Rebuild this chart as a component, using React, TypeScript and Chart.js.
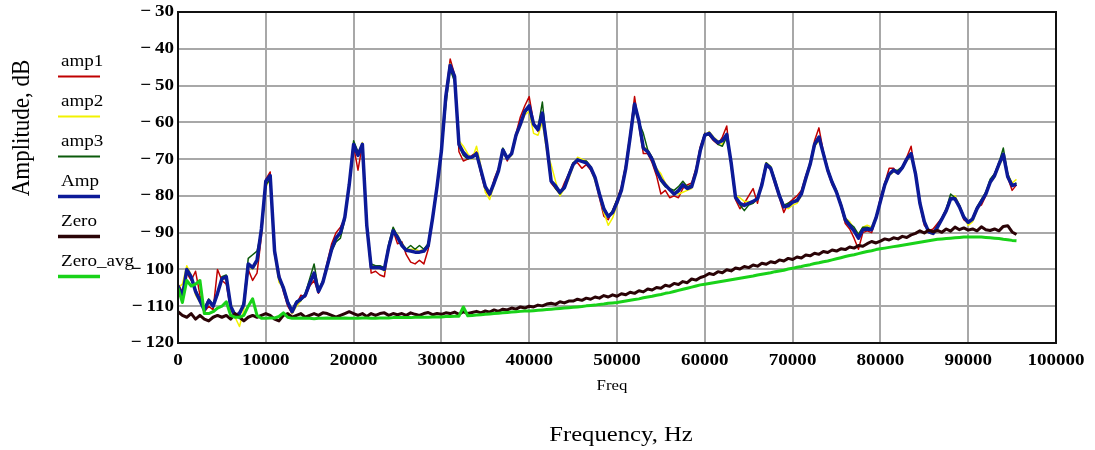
import React, { useEffect, useRef } from 'react';
import { Chart, registerables } from 'chart.js';

Chart.register(...registerables);

// Frequency bins, Hz
const FREQ = [
  0, 500, 1000, 1500, 2000, 2500, 3000, 3500, 4000, 4500,
  5000, 5500, 6000, 6500, 7000, 7500, 8000, 8500, 9000, 9500,
  10000, 10500, 11000, 11500, 12000, 12500, 13000, 13500, 14000, 14500,
  15000, 15500, 16000, 16500, 17000, 17500, 18000, 18500, 19000, 19500,
  20000, 20500, 21000, 21500, 22000, 22500, 23000, 23500, 24000, 24500,
  25000, 25500, 26000, 26500, 27000, 27500, 28000, 28500, 29000, 29500,
  30000, 30500, 31000, 31500, 32000, 32500, 33000, 33500, 34000, 34500,
  35000, 35500, 36000, 36500, 37000, 37500, 38000, 38500, 39000, 39500,
  40000, 40500, 41000, 41500, 42000, 42500, 43000, 43500, 44000, 44500,
  45000, 45500, 46000, 46500, 47000, 47500, 48000, 48500, 49000, 49500,
  50000, 50500, 51000, 51500, 52000, 52500, 53000, 53500, 54000, 54500,
  55000, 55500, 56000, 56500, 57000, 57500, 58000, 58500, 59000, 59500,
  60000, 60500, 61000, 61500, 62000, 62500, 63000, 63500, 64000, 64500,
  65000, 65500, 66000, 66500, 67000, 67500, 68000, 68500, 69000, 69500,
  70000, 70500, 71000, 71500, 72000, 72500, 73000, 73500, 74000, 74500,
  75000, 75500, 76000, 76500, 77000, 77500, 78000, 78500, 79000, 79500,
  80000, 80500, 81000, 81500, 82000, 82500, 83000, 83500, 84000, 84500,
  85000, 85500, 86000, 86500, 87000, 87500, 88000, 88500, 89000, 89500,
  90000, 90500, 91000, 91500, 92000, 92500, 93000, 93500, 94000, 94500,
  95000, 95500,
];

const AMP1 = [
  -104, -106, -101, -103, -100.5, -107, -111.5, -110, -111, -100,
  -103, -104, -111, -113, -111.5, -110, -100, -103, -101, -91,
  -75.5, -73.5, -96, -101, -106, -110, -112, -109.5, -107, -107.5,
  -104.5, -103, -106.5, -103, -98, -93, -90, -88.5, -86, -77.5,
  -66.5, -73, -66, -88, -101, -100.5, -101.5, -102, -93.5, -89.5,
  -93, -92.5, -96, -98, -98.5, -97.5, -98.5, -94.5, -86.5, -77.5,
  -67.5, -52.5, -42.8, -47, -68, -70.5, -70, -69, -68, -74,
  -78.5, -80, -75.5, -72.5, -67.5, -70.5, -68, -63, -58.5, -55.5,
  -53, -60, -62.5, -58.5, -67, -76.5, -78, -79.5, -76.5, -74,
  -71, -71, -72.5, -71.5, -73, -75.5, -80.5, -85.5, -86.5, -84,
  -81, -77.5, -71.5, -63, -53, -61, -68.5, -68.5, -71, -74.5,
  -79.5, -78.5, -80.5, -80, -80.5, -78, -77, -76.5, -72.5, -66.5,
  -63, -63.5, -65, -66, -64, -61, -72, -81, -83.5, -82,
  -80, -78, -82, -76, -71, -73, -77, -80.5, -84.5, -82,
  -81, -80, -78.5, -74.5, -71, -65, -61.5, -68, -73.5, -77,
  -79, -83, -87.5, -89, -91.5, -94.5, -90, -89.5, -90, -86,
  -80.5, -76.5, -72.5, -72.5, -74, -72, -69.5, -66.5, -74.5, -82.5,
  -88, -89.5, -89, -87.5, -86, -83.5, -80.5, -80.5, -83, -86.5,
  -87.5, -86, -83, -82.5, -80, -76, -74, -71, -69, -75,
  -78.5, -77,
];

const AMP2 = [
  -105, -104, -99, -101.5, -107, -109, -110, -109, -109.5, -107,
  -102, -103, -109, -113, -115.5, -111, -99, -100, -98, -90.5,
  -77.5, -75.5, -96, -103.5, -105, -108.5, -112, -110, -108.5, -106.5,
  -103.5, -101.5, -105.5, -104, -99.5, -94, -92, -90.5, -85.5, -76.5,
  -65.5, -68.5, -65.5, -88.5, -99, -99, -99, -100.5, -94.5, -89,
  -90.5, -93, -94.5, -94.5, -94.5, -95, -94.5, -93, -86.5, -78,
  -68, -53.5, -44, -48, -65, -66.5, -68.5, -70, -66.5, -72,
  -79, -81, -77, -73.5, -68, -70, -69, -64, -61, -58,
  -57, -63, -63.5, -60, -68, -71.5, -76, -80, -78, -75.5,
  -72, -69.5, -70, -70.5, -72, -76, -80, -84.5, -88, -86,
  -82.5, -79, -73, -64.5, -56, -60, -66.5, -67.5, -69.5, -72.5,
  -74, -76.5, -78, -79, -79.5, -79, -78.5, -78, -74, -68,
  -64, -62.5, -64, -65, -66, -64, -71.5, -80, -80.5, -81.5,
  -81.5, -82, -81, -77.5, -71, -72, -76.5, -80.5, -82.5, -83.5,
  -82.5, -82, -80, -76, -72, -66.5, -65, -68, -72.5, -76,
  -78.5, -82, -86, -87, -89, -90.5, -88.5, -88, -88.5, -85.5,
  -82, -77.5, -74.5, -73.5, -73.5, -72.5, -70.5, -69, -73.5, -81.5,
  -86.5, -90, -90.5, -89, -86.5, -84.5, -81, -80, -82.5, -85.5,
  -88, -87, -84, -81, -79, -76.5, -75, -72, -69.5, -74,
  -76.5, -75.5,
];

const AMP3 = [
  -104, -107, -100.5, -102.5, -105.5, -108, -110.5, -108, -109.5, -107,
  -102, -101.5, -110, -112, -112.5, -108.5, -97, -96, -95, -89.5,
  -77, -75.5, -94.5, -102.5, -104.5, -108.5, -111, -108.5, -108.5, -106.5,
  -102.5, -98.5, -105.5, -103, -99.5, -95, -92.5, -91.5, -86.5, -76.5,
  -65, -68, -66.5, -87.5, -98.5, -99, -99, -99.5, -93, -88.5,
  -91, -93, -94.5, -93.5, -94.5, -93.5, -94.5, -93, -85.5, -77,
  -68, -55.5, -45.5, -49, -66.5, -69, -70, -69.5, -69, -73.5,
  -78, -79, -76.5, -73.5, -67, -69.5, -68.5, -64, -60, -57.5,
  -56, -60.5, -61.5, -54.5, -66, -76, -78, -79.5, -77.5, -74,
  -71, -70, -70.5, -70.5, -72, -75.5, -79, -83, -85.5, -84,
  -81, -78, -72, -64.5, -56, -60, -63, -67.5, -69.5, -73,
  -76, -77.5, -78, -78.5, -77.5, -76, -77.5, -77, -73, -67,
  -63, -63.5, -64.5, -66, -66.5, -64, -70.5, -80, -82.5, -84,
  -82.5, -82, -80.5, -76.5, -71, -72, -75.5, -79.5, -82.5, -82,
  -81.5, -81, -79, -75, -71, -66.5, -64.5, -68, -72.5, -76,
  -78.5, -82, -86, -87.5, -88.5, -90.5, -88.5, -88.5, -89, -86,
  -81, -76.5, -74, -73, -73, -72, -70, -68.5, -73.5, -81.5,
  -87, -89.5, -90, -88, -86, -83.5, -79.5, -80.5, -82.5, -85.5,
  -87, -86, -83, -81, -79, -75.5, -74, -71, -67, -74,
  -77, -76.5,
];

const AMP = [
  -104.5, -107.5, -100, -102, -106, -108.5, -111, -108.5, -110, -106.5,
  -102.5, -102, -110, -112.5, -112, -109.5, -98.5, -99.5, -97.5, -89,
  -76, -74.5, -95, -102, -105, -109, -111.5, -109, -108, -107,
  -103.8, -101, -106, -103.5, -99, -94.5, -91.5, -90, -85.8, -77,
  -66, -69, -66, -88, -99.5, -99.5, -99.5, -100, -94, -89.5,
  -91.2, -93.5, -94.8, -95, -95.3, -95.3, -95, -93.5, -86, -77.5,
  -67.8, -53, -44.5, -47.5, -66, -68.2, -69.5, -69.5, -68.5, -73,
  -77.5, -79.5, -76.5, -73.2, -67.5, -69.8, -68.5, -63.5, -60.5, -57,
  -55.5, -60.5, -62, -57.5, -66, -76, -77.3, -79, -77.8, -74.5,
  -71.5, -70.2, -70.6, -71, -72.3, -75, -79.5, -83.5, -85.6, -84.5,
  -81.8, -78.5, -72.5, -64, -55, -59.7, -67, -68, -70, -73.2,
  -75.5, -77, -78.3, -79.5, -78.6, -77, -78, -77.5, -73.5, -67.5,
  -63.5, -63, -64.5, -65.5, -65, -63.3, -71, -80.4, -82, -82.6,
  -82, -81.5, -80.8, -77, -71.5, -72.5, -76.2, -80, -83, -82.7,
  -81.7, -81.3, -79.5, -75.3, -71.4, -66, -64, -68.5, -73, -76.3,
  -79, -82.5, -86.5, -88, -89.5, -91.5, -89.2, -89, -89.2, -86,
  -81.5, -77, -74.1, -73, -73.8, -72.3, -70, -68.5, -74, -82,
  -87, -89.8, -90.2, -88.5, -86.3, -84, -80.8, -80.8, -83, -85.8,
  -87.2, -86.3, -83.5, -81.5, -79.5, -76.3, -74.5, -71.4, -68.7, -74.8,
  -77.2, -76.8,
];

const ZERO = [
  -111.5, -112.5, -113, -112, -113.5, -112.5, -113.5, -114, -113, -112.5,
  -113, -112.5, -113.5, -112, -113, -114, -113, -112.5, -113, -112.5,
  -112, -112.5, -113.5, -114, -112.5, -112, -113, -112.5, -112, -113,
  -112.5, -112, -112.5, -111.8, -112, -112.5, -113, -112.5, -112, -111.5,
  -112, -112.5, -112, -112.8, -112, -112.5, -112, -111.8, -112.5, -112,
  -112.3, -112, -112.5, -111.8, -112.2, -112.5, -112, -111.7, -112.3, -112,
  -112.2, -111.8, -112, -111.6, -112.2, -111.5, -112, -111.7, -111.4, -111.8,
  -111.3, -111.6, -111, -111.4, -110.8, -111, -110.5, -110.8, -110.2, -110.5,
  -110, -110.2, -109.7, -109.9, -109.4, -109.2, -109.5, -108.8, -109.1, -108.6,
  -108.6, -108.1, -108.4, -107.8, -108.1, -107.5, -107.8, -107.1, -107.5, -106.9,
  -107.3, -106.6, -106.9, -106.2, -106.5, -105.8, -106.1, -105.3, -105.6, -104.9,
  -105.1, -104.3, -104.6, -103.8, -104.1, -103.3, -103.6, -102.6, -102.9, -102.2,
  -101.8, -101.1, -101.4, -100.6, -100.9, -100.1, -100.4, -99.6, -99.9, -99.2,
  -99.5, -98.8, -99.1, -98.3, -98.6, -97.9, -98.2, -97.4, -97.7, -97,
  -97.3, -96.6, -96.9, -96.1, -96.3, -95.6, -95.9, -95.1, -95.4, -94.7,
  -95, -94.4, -94.6, -93.9, -94.2, -93.5, -93.7, -93, -92.4, -92.8,
  -92.3, -91.7, -92, -91.4, -91.7, -91, -91.3, -90.6, -90.2, -89.5,
  -90.1, -89.3, -89.8, -89.4, -89.9, -89, -89.6, -88.5, -89.2, -88.7,
  -89.3, -89, -89.5, -88.4, -89.2, -89.4, -89, -89.5, -88.3, -88.1,
  -89.8, -90.5,
];

const ZERO_AVG = [
  -105, -109, -103, -104.5, -104, -103, -112, -112, -111.5, -110.5,
  -110, -108.8, -112.5, -113, -113, -112.5, -110, -108, -112.5, -113.3,
  -113.3, -113.2, -113.2, -112.8, -111.8, -113, -113.3, -113.3, -113.2, -113.3,
  -113.3, -113.4, -113.3, -113.3, -113.2, -113.3, -113.3, -113.3, -113.2, -113.3,
  -113.3, -113.3, -113.2, -113.2, -113.3, -113.3, -113.2, -113.2, -113.2, -113.1,
  -113.1, -113.1, -113.1, -113.1, -113, -113, -113, -113, -112.9, -112.9,
  -112.9, -112.8, -112.8, -112.7, -112.7, -110.2, -112.6, -112.5, -112.4, -112.3,
  -112.2, -112.1, -112, -111.9, -111.8, -111.7, -111.6, -111.5, -111.4, -111.3,
  -111.3, -111.2, -111.1, -111, -110.9, -110.8, -110.7, -110.6, -110.5, -110.4,
  -110.3, -110.2, -110.1, -109.9, -109.8, -109.7, -109.5, -109.4, -109.2, -109.1,
  -109, -108.8, -108.6, -108.4, -108.2, -108, -107.7, -107.5, -107.3, -107,
  -106.8, -106.5, -106.3, -106, -105.7, -105.4, -105.1, -104.8, -104.5, -104.2,
  -104, -103.8, -103.6, -103.4, -103.2, -103, -102.8, -102.6, -102.4, -102.2,
  -102, -101.8, -101.5, -101.3, -101.1, -100.9, -100.6, -100.4, -100.2, -99.9,
  -99.7, -99.4, -99.2, -98.9, -98.7, -98.4, -98.2, -97.9, -97.7, -97.4,
  -97.1, -96.8, -96.5, -96.2, -96, -95.7, -95.4, -95.1, -94.9, -94.6,
  -94.4, -94.2, -94, -93.8, -93.6, -93.4, -93.2, -93, -92.8, -92.6,
  -92.4, -92.2, -92, -91.8, -91.7, -91.6, -91.5, -91.4, -91.3, -91.2,
  -91.2, -91.2, -91.2, -91.2, -91.3, -91.4, -91.5, -91.6, -91.8, -91.9,
  -92.1, -92.2,
];

const X_TICKS = [0, 10000, 20000, 30000, 40000, 50000, 60000, 70000, 80000, 90000, 100000];
const Y_TICKS = [-120, -110, -100, -90, -80, -70, -60, -50, -40, -30];

const X_MIN = 0;
const X_MAX = 100000;
const Y_MIN = -120;
const Y_MAX = -30;

const SERIES = [
  { label: 'amp1', values: AMP1, color: '#c00000', width: 1.5, legendWidth: 2, order: 6 },
  { label: 'amp2', values: AMP2, color: '#f2f200', width: 1.5, legendWidth: 2, order: 5 },
  { label: 'amp3', values: AMP3, color: '#0b5a0b', width: 1.5, legendWidth: 2, order: 4 },
  { label: 'Amp', values: AMP, color: '#0c1a98', width: 3.5, legendWidth: 3.5, order: 3 },
  { label: 'Zero', values: ZERO, color: '#2a0306', width: 3, legendWidth: 3.5, order: 2 },
  { label: 'Zero_avg', values: ZERO_AVG, color: '#19d219', width: 3, legendWidth: 3.5, order: 1 },
];

const FONT = '"Liberation Serif", "Times New Roman", serif';
const SX = 1.12;

function drawText(
  ctx: CanvasRenderingContext2D,
  text: string,
  x: number,
  y: number,
  font: string,
  align: CanvasTextAlign,
  baseline: CanvasTextBaseline,
  rotate = 0,
) {
  ctx.save();
  ctx.translate(x, y);
  ctx.scale(SX, 1);
  if (rotate) ctx.rotate(rotate);
  ctx.font = font;
  ctx.textAlign = align;
  ctx.textBaseline = baseline;
  ctx.fillStyle = '#000';
  ctx.fillText(text, 0, 0);
  ctx.restore();
}

const decorPlugin = {
  id: 'decor',
  afterDraw(chart: any) {
    const ctx: CanvasRenderingContext2D = chart.ctx;
    const { left, right, top, bottom } = chart.chartArea;
    const xs = chart.scales.x;
    const ys = chart.scales.y;

    // frame
    ctx.save();
    ctx.strokeStyle = '#111';
    ctx.lineWidth = 2;
    ctx.strokeRect(left, top, right - left, bottom - top);
    ctx.restore();

    // y tick labels
    for (const v of Y_TICKS) {
      const py = ys.getPixelForValue(v);
      const label = v < 0 ? '\u2212\u2009' + Math.abs(v) : String(v);
      drawText(ctx, label, left - 4, py, 'bold 17px ' + FONT, 'right', 'middle');
    }
    // x tick labels
    for (const v of X_TICKS) {
      const px = xs.getPixelForValue(v);
      drawText(ctx, String(v), px, bottom + 18, 'bold 17px ' + FONT, 'center', 'middle');
    }

    // axis titles
    drawText(ctx, 'Freq', (left + right) / 2 - 5, bottom + 43, '15px ' + FONT, 'center', 'middle');
    drawText(ctx, 'Frequency, Hz', (left + right) / 2 + 4, bottom + 92, '22px ' + FONT, 'center', 'middle');
    drawText(ctx, 'Amplitude, dB', 22, 128, '23px ' + FONT, 'center', 'middle', -Math.PI / 2);

    // legend
    SERIES.forEach((s, i) => {
      const lineY = 76.5 + 40 * i;
      drawText(ctx, s.label, 61, lineY - 11, '17px ' + FONT, 'left', 'alphabetic');
      ctx.save();
      ctx.strokeStyle = s.color;
      ctx.lineWidth = s.legendWidth;
      ctx.beginPath();
      ctx.moveTo(58, lineY);
      ctx.lineTo(100, lineY);
      ctx.stroke();
      ctx.restore();
    });
  },
};

export default function App() {
  const canvasRef = useRef<HTMLCanvasElement | null>(null);

  useEffect(() => {
    const canvas = canvasRef.current;
    if (!canvas) return;
    const chart = new Chart(canvas, {
      type: 'line',
      data: {
        datasets: SERIES.map((s) => ({
          label: s.label,
          data: FREQ.map((f, i) => ({ x: f, y: s.values[i] })),
          borderColor: s.color,
          backgroundColor: s.color,
          borderWidth: s.width,
          pointRadius: 0,
          tension: 0,
          fill: false,
          order: s.order,
          borderJoinStyle: 'round' as const,
        })),
      },
      options: {
        responsive: false,
        animation: false,
        devicePixelRatio: 1,
        events: [],
        layout: { padding: { left: 178, right: 39, top: 12, bottom: 107 } },
        plugins: {
          legend: { display: false },
          tooltip: { enabled: false },
        },
        scales: {
          x: {
            type: 'linear',
            min: X_MIN,
            max: X_MAX,
            afterBuildTicks: (s: any) => {
              s.ticks = X_TICKS.map((v) => ({ value: v }));
            },
            afterFit: (s: any) => {
              s.height = 0;
            },
            ticks: { display: false },
            grid: { color: '#a8a8a8', lineWidth: 2, drawTicks: false },
            border: { display: false },
          },
          y: {
            type: 'linear',
            min: Y_MIN,
            max: Y_MAX,
            afterBuildTicks: (s: any) => {
              s.ticks = Y_TICKS.map((v) => ({ value: v }));
            },
            afterFit: (s: any) => {
              s.width = 0;
            },
            ticks: { display: false },
            grid: { color: '#a8a8a8', lineWidth: 2, drawTicks: false },
            border: { display: false },
          },
        },
      },
      plugins: [decorPlugin],
    });
    return () => chart.destroy();
  }, []);

  return (
    <div style={{ position: 'absolute', left: 0, top: 0, width: 1095, height: 450, background: '#fff' }}>
      <canvas ref={canvasRef} width={1095} height={450} />
    </div>
  );
}
